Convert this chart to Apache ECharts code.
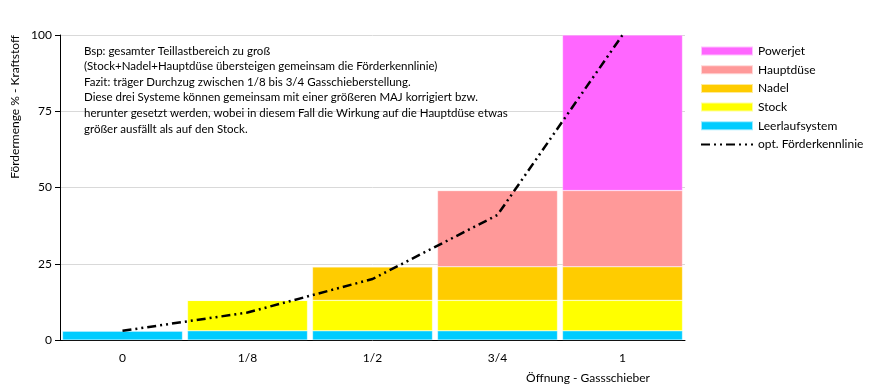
<!DOCTYPE html>
<html><head><meta charset="utf-8">
<script src="https://cdn.jsdelivr.net/npm/echarts@6/dist/echarts.min.js"></script>
<style>html,body{margin:0;padding:0;background:#fff}#c{width:872px;height:388px}</style>
</head><body><div id="c"></div>
<script>
var categories = ['0', '1/8', '1/2', '3/4', '1'];
var leerlauf = [3, 3, 3, 3, 3];
var stock = [0, 10, 10, 10, 10];
var nadel = [0, 0, 11, 11, 11];
var hauptduese = [0, 0, 0, 25, 25];
var powerjet = [0, 0, 0, 0, 51];
var kennlinie = [3, 9, 20, 41, 100];
var yTicks = [0, 25, 50, 75, 100];
var noteLines = [
  'Bsp: gesamter Teillastbereich zu groß',
  '(Stock+Nadel+Hauptdüse übersteigen gemeinsam die Förderkennlinie)',
  'Fazit: träger Durchzug zwischen 1/8 bis 3/4 Gasschieberstellung.',
  'Diese drei Systeme können gemeinsam mit einer größeren MAJ korrigiert bzw.',
  'herunter gesetzt werden, wobei in diesem Fall die Wirkung auf die Hauptdüse etwas',
  'größer ausfällt als auf den Stock.'
];

var FONT = 'Lato';
var chart = echarts.init(document.getElementById('c'));
function bar(name, data, color) {
  return {
    name: name, type: 'bar', stack: 'a', data: data,
    barCategoryGap: '4%',
    itemStyle: { color: color, borderColor: 'rgba(255,255,255,0.6)', borderWidth: 0.5 },
    emphasis: { disabled: true }
  };
}
chart.setOption({
  animation: false,
  textStyle: { fontFamily: FONT },
  grid: { left: 60, right: 187, top: 35, bottom: 48 },
  legend: {
    orient: 'vertical', left: 695, top: 40, itemGap: 6.7,
    itemWidth: 52, itemHeight: 9,
    textStyle: { fontFamily: FONT, fontSize: 12, color: '#000' },
    data: [
      { name: 'Powerjet', icon: 'rect' },
      { name: 'Hauptdüse', icon: 'rect' },
      { name: 'Nadel', icon: 'rect' },
      { name: 'Stock', icon: 'rect' },
      { name: 'Leerlaufsystem', icon: 'rect' },
      { name: 'opt. Förderkennlinie', itemStyle: { opacity: 0 } }
    ]
  },
  xAxis: {
    type: 'category', data: categories,
    axisLine: { lineStyle: { color: '#000', width: 1 } },
    axisTick: { length: 5, lineStyle: { color: '#000' } },
    axisLabel: { fontFamily: FONT, fontSize: 12, color: '#000', margin: 12 },
    splitLine: { show: false }
  },
  yAxis: {
    type: 'value', min: 0, max: 100, interval: 25,
    axisLine: { show: true, lineStyle: { color: '#000', width: 1 } },
    axisTick: { show: true, length: 5, lineStyle: { color: '#000' } },
    axisLabel: { fontFamily: FONT, fontSize: 12, color: '#000', margin: 8 },
    splitLine: { lineStyle: { color: '#d9d9d9', width: 1 } }
  },
  graphic: [
    { type: 'text', left: 84, top: 43, z: 100,
      style: { text: noteLines.join('\n'), font: '11.5px ' + FONT, fill: '#000', lineHeight: 15.6 } },
    { type: 'text', x: 15, y: 107, rotation: Math.PI / 2, z: 100,
      style: { text: 'Fördermenge % - Kraftstoff', font: '12px ' + FONT, fill: '#000',
               align: 'center', verticalAlign: 'middle' } },
    { type: 'text', x: 588, y: 378, z: 100,
      style: { text: 'Öffnung - Gassschieber', font: '12px ' + FONT, fill: '#000',
               align: 'center', verticalAlign: 'middle' } }
  ],
  series: [
    bar('Leerlaufsystem', leerlauf, '#00CCFF'),
    bar('Stock', stock, '#FFFF00'),
    bar('Nadel', nadel, '#FFCC00'),
    bar('Hauptdüse', hauptduese, '#FF9999'),
    bar('Powerjet', powerjet, '#FF66FF'),
    {
      name: 'opt. Förderkennlinie', type: 'line', data: kennlinie,
      symbol: 'none', z: 10,
      lineStyle: { color: '#000', width: 2.5, type: [9, 4, 2, 4, 2, 4] },
      itemStyle: { color: '#000' },
      emphasis: { disabled: true }
    }
  ]
});
</script></body></html>
